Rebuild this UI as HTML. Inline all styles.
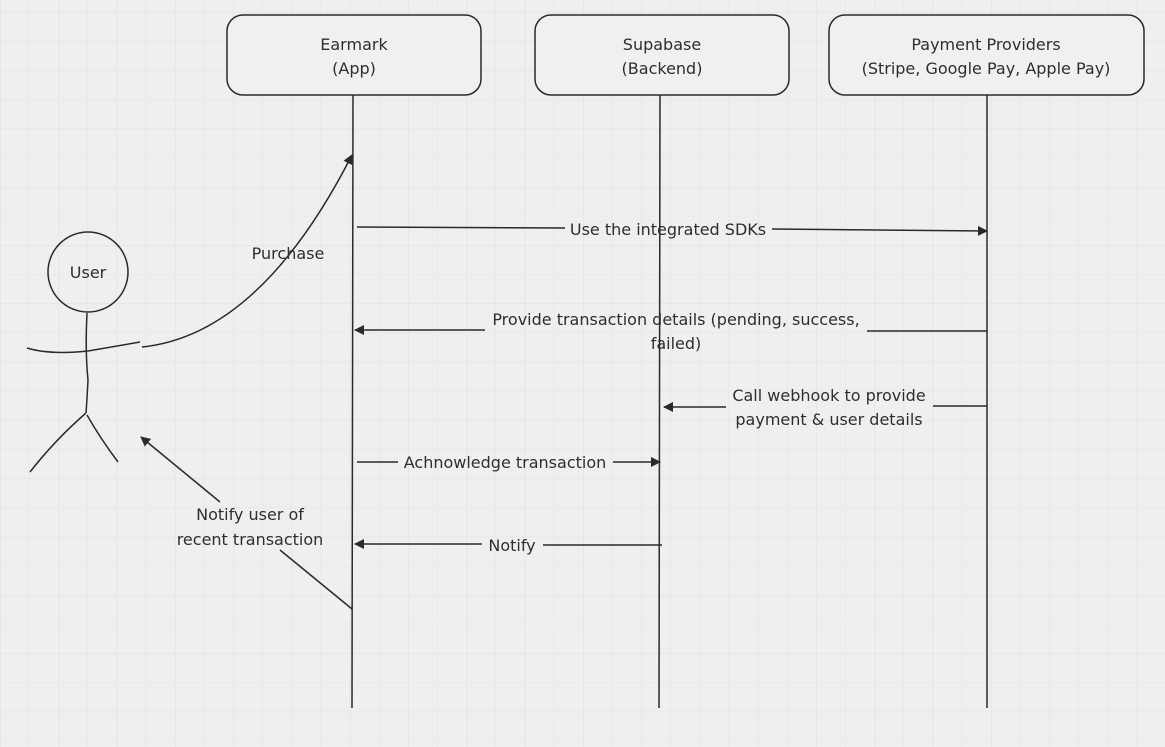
<!DOCTYPE html>
<html><head><meta charset="utf-8"><style>
html,body{margin:0;padding:0;background:#efefef;}
svg{display:block;}
text{font-family:"DejaVu Sans","Liberation Sans",sans-serif;font-size:16px;fill:#2e2e2e;}
</style></head><body>
<svg width="1165" height="747" viewBox="0 0 1165 747" xmlns="http://www.w3.org/2000/svg">
<defs>
<pattern id="g" x="0" y="12" width="58.3" height="58.3" patternUnits="userSpaceOnUse">
<path d="M29.15 0V58.3M0 29.15H58.3" stroke="#e9e9e9" stroke-width="1" fill="none"/>
<path d="M0 0V58.3M0 0H58.3" stroke="#e2e2e2" stroke-width="1.2" fill="none"/>
</pattern>
<marker id="a" markerWidth="10" markerHeight="10" refX="9" refY="5" orient="auto" markerUnits="userSpaceOnUse">
<path d="M0,0 L10,5 L0,10 z" fill="#2a2a2a"/>
</marker>
</defs>
<rect width="1165" height="747" fill="#efefef"/>
<rect width="1165" height="747" fill="url(#g)"/>
<g fill="#f0f0f0" stroke="#2a2a2a" stroke-width="1.5">
<rect x="227" y="15" width="254" height="80" rx="16"/>
<rect x="535" y="15" width="254" height="80" rx="16"/>
<rect x="829" y="15" width="315" height="80" rx="16"/>
</g>
<text x="354" y="50" text-anchor="middle">Earmark</text>
<text x="354" y="74" text-anchor="middle">(App)</text>
<text x="662" y="50" text-anchor="middle">Supabase</text>
<text x="662" y="74" text-anchor="middle">(Backend)</text>
<text x="986" y="50" text-anchor="middle">Payment Providers</text>
<text x="986" y="74" text-anchor="middle">(Stripe, Google Pay, Apple Pay)</text>
<g stroke="#2a2a2a" stroke-width="1.5" fill="none">
<line x1="353" y1="95" x2="352" y2="708"/>
<line x1="660" y1="95" x2="659" y2="708"/>
<line x1="987" y1="95" x2="987" y2="708"/>
<circle cx="88" cy="272" r="40"/>
<path d="M87 313 Q85 350 88 380 Q87 400 86 413"/>
<path d="M27 348 Q50 355 88 351 L140 342"/>
<path d="M86 413 Q55 440 30 472"/>
<path d="M87 415 Q100 438 118 462"/>
<path d="M142 347 Q260 335 352 155" marker-end="url(#a)"/>
<line x1="357" y1="227" x2="565" y2="228"/>
<line x1="772" y1="229" x2="987" y2="231" marker-end="url(#a)"/>
<line x1="987" y1="331" x2="867" y2="331"/>
<line x1="485" y1="330" x2="355" y2="330" marker-end="url(#a)"/>
<line x1="987" y1="406" x2="933" y2="406"/>
<line x1="726" y1="407" x2="664" y2="407" marker-end="url(#a)"/>
<line x1="357" y1="462" x2="398" y2="462"/>
<line x1="613" y1="462" x2="660" y2="462" marker-end="url(#a)"/>
<line x1="662" y1="545" x2="543" y2="545"/>
<line x1="482" y1="544" x2="355" y2="544" marker-end="url(#a)"/>
<line x1="352" y1="609" x2="280" y2="550"/>
<line x1="220" y1="502" x2="141" y2="437" marker-end="url(#a)"/>
</g>
<text x="88" y="278" text-anchor="middle">User</text>
<text x="288" y="259" text-anchor="middle">Purchase</text>
<text x="668" y="235" text-anchor="middle">Use the integrated SDKs</text>
<text x="676" y="325" text-anchor="middle">Provide transaction details (pending, success,</text>
<text x="676" y="349" text-anchor="middle">failed)</text>
<text x="829" y="401" text-anchor="middle">Call webhook to provide</text>
<text x="829" y="425" text-anchor="middle">payment &amp; user details</text>
<text x="505" y="468" text-anchor="middle">Achnowledge transaction</text>
<text x="512" y="551" text-anchor="middle">Notify</text>
<text x="250" y="520" text-anchor="middle">Notify user of</text>
<text x="250" y="545" text-anchor="middle">recent transaction</text>
</svg>
</body></html>
